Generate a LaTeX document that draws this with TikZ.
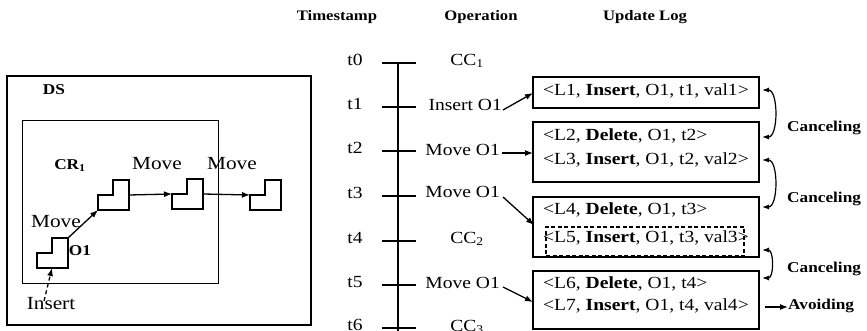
\documentclass[tikz,border=0pt]{standalone}
\usepackage{fontspec}
\setmainfont{Liberation Serif}[FakeStretch=1.15]
\usetikzlibrary{arrows.meta}
\begin{document}
\begin{tikzpicture}[x=1pt,y=-1pt,
  txt/.style={inner sep=0pt, anchor=mid, font=\fontsize{17}{20}\selectfont},
  lft/.style={inner sep=0pt, anchor=mid, font=\fontsize{18.5}{20}\selectfont},
  bld/.style={inner sep=0pt, anchor=mid, font=\fontsize{15}{20}\selectfont\bfseries},
  hdr/.style={inner sep=0pt, anchor=mid, font=\fontsize{14.5}{20}\selectfont\bfseries},
  arr/.style={-{Latex[length=8pt,width=6pt]}, line width=1.3pt},
  dbl/.style={{Latex[length=7pt,width=5pt]}-{Latex[length=7pt,width=5pt]}, line width=1.2pt},
  logbox/.style={draw, line width=1.4pt, minimum width=226pt, inner sep=0pt},
  obj/.style={draw, line width=1.7pt, line join=miter},
  tickln/.style={line width=2.6pt},
  stepobj/.pic={
    \draw[obj] (0,0) -- (0,-15) -- (15,-15) -- (15,-30) -- (31,-30) -- (31,0) -- cycle;
    \coordinate (-tr) at (31,-30);
    \coordinate (-bl) at (0,0);
    \coordinate (-r) at (31,-15);
    \coordinate (-l) at (0,-15);
    \coordinate (-b) at (15,0);
  }]
\useasboundingbox (0,0) rectangle (867,331);

% ---------- left: DS / CR1 ----------
\node[draw, line width=1.8pt, minimum width=304pt, minimum height=249pt, inner sep=0pt] (ds) at (159,200.5) {};
\node[draw, line width=0.9pt, minimum width=196pt, minimum height=163pt, inner sep=0pt] (cr) at (120,201.5) {};
\node[bld] (dslbl) at (54,92) {DS};
\node[bld] (crlbl) at (70,167) {CR\textsubscript{1}};

\pic (o1) at (37,268) {stepobj};
\pic (o2) at (98,210) {stepobj};
\pic (o3) at (172,209) {stepobj};
\pic (o4) at (250,210) {stepobj};

\node[bld] (o1lbl) at (80,253) {O1};
\node[lft] (mv1) at (56,225) {Move};
\node[lft] (mv2) at (157,167) {Move};
\node[lft] (mv3) at (232,167) {Move};
\node[lft] (ins) at (51,307) {Insert};
\coordinate (insstart) at (44,301);

\draw[arr] (o1-tr) -- (o2-bl);
\draw[arr] (o2-r) -- (o3-l);
\draw[arr] (o3-r) -- (o4-l);
\draw[arr, dashed, dash pattern=on 4pt off 3pt] (insstart) -- (o1-b);

% ---------- headers ----------
\node[hdr] (h1) at (337,18) {Timestamp};
\node[hdr] (h2) at (481,18) {Operation};
\node[hdr] (h3) at (645,18) {Update Log};

% ---------- timeline ----------
\coordinate (tltop) at (398,63);
\coordinate (tlbot) at (398,335);
\draw[line width=2.4pt] (tltop) -- (tlbot);
\foreach \i/\y in {0/63,1/107,2/151,3/196,4/241,5/285,6/328}{
  \draw[tickln] (382,\y) -- (416,\y);
  \node[txt] (t\i) at (355,\y) {t\i};
}

% ---------- operations ----------
\node[txt] (op0) at (467,63) {CC\textsubscript{1}};
\node[txt, anchor=mid east] (op1) at (502,108) {Insert O1};
\node[txt, anchor=mid east] (op2) at (500,153) {Move O1};
\node[txt, anchor=mid east] (op3) at (500,195) {Move O1};
\node[txt] (op4) at (467,241) {CC\textsubscript{2}};
\node[txt, anchor=mid east] (op5) at (500,286) {Move O1};
\node[txt] (op6) at (467,329) {CC\textsubscript{3}};

% ---------- update log ----------
\node[logbox, minimum height=31pt] (b1) at (646,92.5) {};
\node[logbox, minimum height=60pt] (b2) at (646,152) {};
\node[logbox, minimum height=60pt] (b3) at (646,227) {};
\node[logbox, minimum height=58pt] (b4) at (646,300) {};
\node[draw, dashed, line width=1.2pt, dash pattern=on 4pt off 2.5pt, minimum width=198pt, minimum height=29pt, inner sep=0pt] (l5box) at (645,241.5) {};

\node[txt, anchor=mid west] (l1) at (543,93) {<L1, \textbf{Insert}, O1, t1, val1>};
\node[txt, anchor=mid west] (l2) at (543,138) {<L2, \textbf{Delete}, O1, t2>};
\node[txt, anchor=mid west] (l3) at (543,162) {<L3, \textbf{Insert}, O1, t2, val2>};
\node[txt, anchor=mid west] (l4) at (543,212) {<L4, \textbf{Delete}, O1, t3>};
\node[txt, anchor=mid west] (l5) at (543,240) {<L5, \textbf{Insert}, O1, t3, val3>};
\node[txt, anchor=mid west] (l6) at (543,286) {<L6, \textbf{Delete}, O1, t4>};
\node[txt, anchor=mid west] (l7) at (543,308) {<L7, \textbf{Insert}, O1, t4, val4>};

\coordinate (a1s) at (503,110);
\coordinate (a1e) at (533,93);
\coordinate (a2e) at (533,153);
\coordinate (a3s) at (503,197);
\coordinate (a3e) at (534,225);
\coordinate (a5s) at (503,287);
\coordinate (a5e) at (533,302);
\draw[arr] (a1s) -- (a1e);
\draw[arr] (op2.mid east) ++(2,0) coordinate (a2s) -- (a2e);
\draw[arr] (a3s) -- (a3e);
\draw[arr] (a5s) -- (a5e);

% ---------- canceling / avoiding ----------
\coordinate (c1a) at (762,90);
\coordinate (c1b) at (762,137);
\coordinate (c2a) at (762,160);
\coordinate (c2b) at (762,207);
\coordinate (c3a) at (762,250);
\coordinate (c3b) at (762,278);
\draw[dbl] (c1a) to[out=0,in=0,looseness=0.9] (c1b);
\draw[dbl] (c2a) to[out=0,in=0,looseness=0.9] (c2b);
\draw[dbl] (c3a) to[out=0,in=0,looseness=1.1] (c3b);
\node[bld, anchor=mid west] (cn1) at (787,129) {Canceling};
\node[bld, anchor=mid west] (cn2) at (787,200) {Canceling};
\node[bld, anchor=mid west] (cn3) at (787,270) {Canceling};
\node[bld, anchor=mid west] (avd) at (788,307) {Avoiding};
\coordinate (avs) at (765,307);
\draw[arr] (avs) -- (avd.mid west);
\end{tikzpicture}
\end{document}
